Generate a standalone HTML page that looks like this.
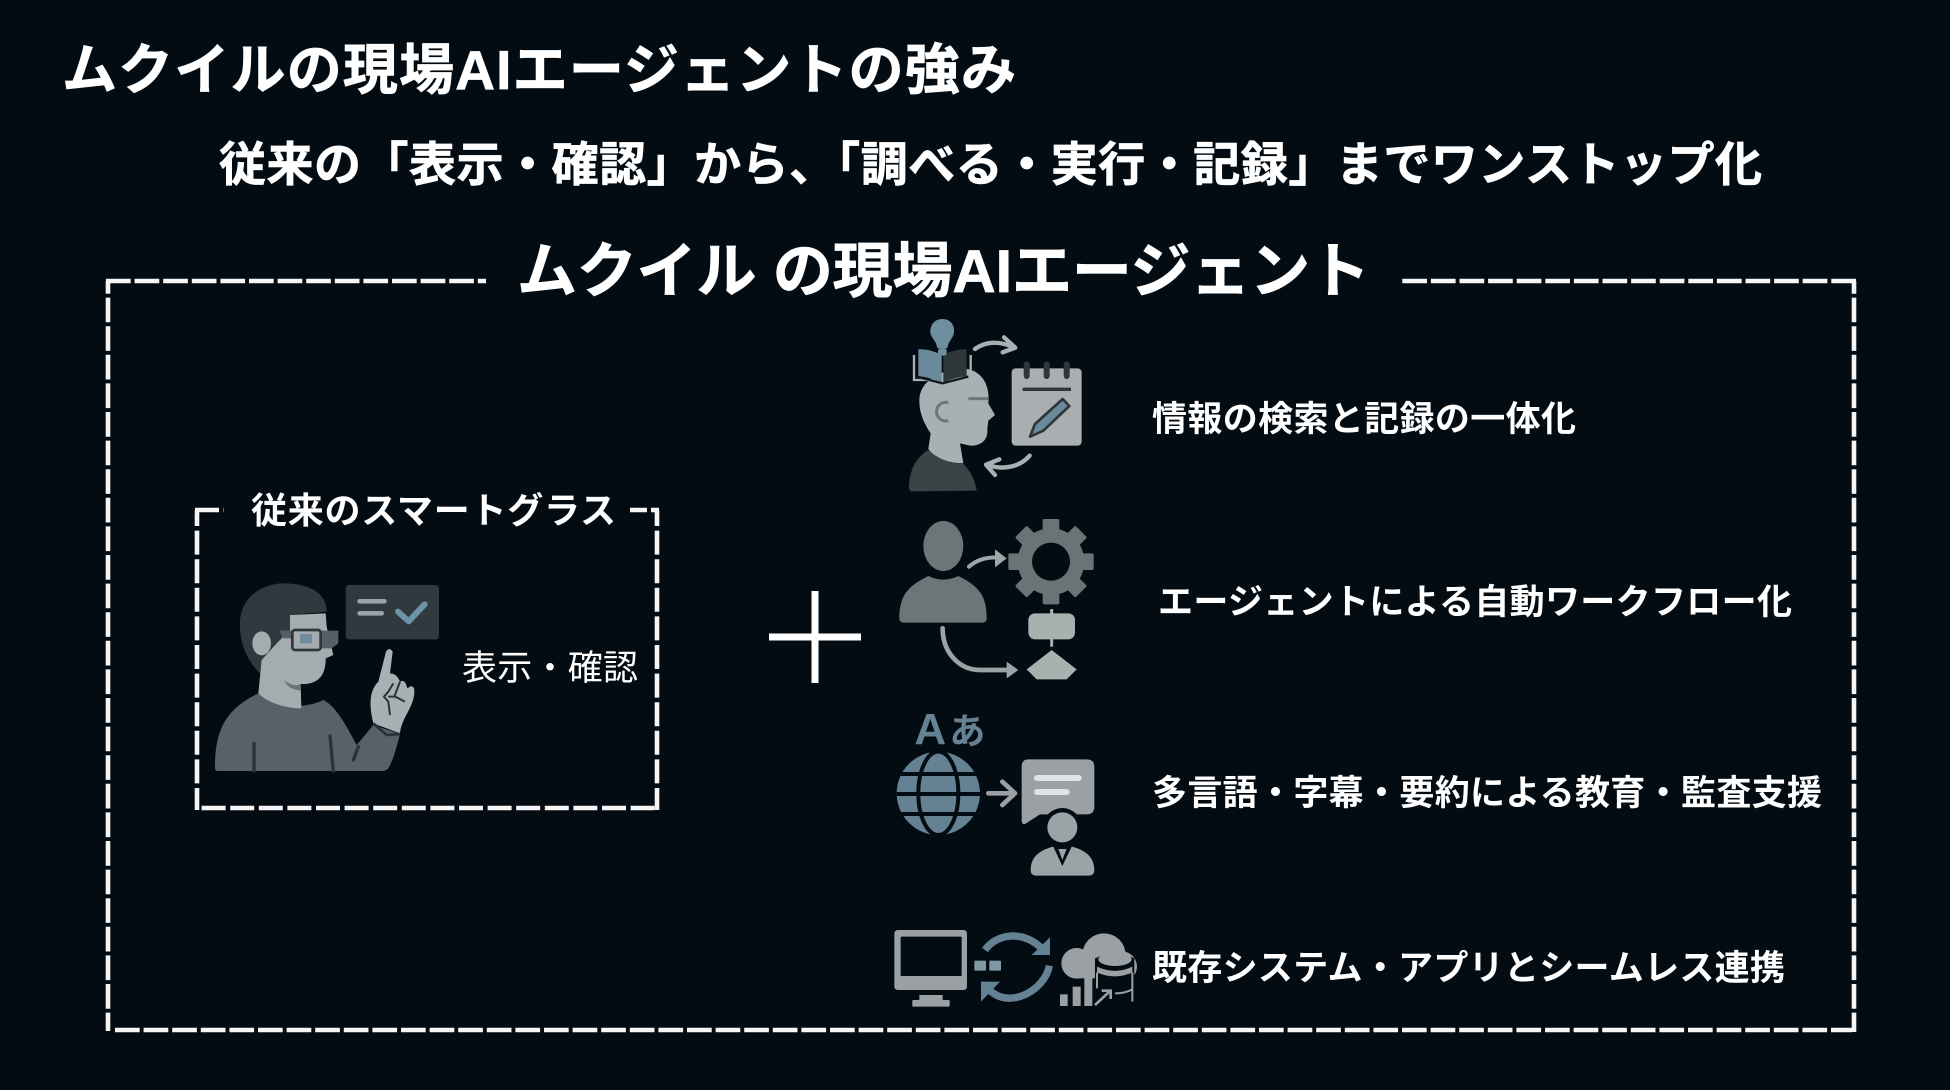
<!DOCTYPE html>
<html lang="ja"><head><meta charset="utf-8"><style>
html,body{margin:0;padding:0;background:#040c13}
svg{display:block}
text{font-family:"Liberation Sans","Noto Sans CJK JP",sans-serif;fill:#fff}
.b{font-weight:700}
.h{font-weight:700;stroke:#fff;stroke-width:.7px}
</style></head><body>
<svg width="1950" height="1090" viewBox="0 0 1950 1090" xmlns="http://www.w3.org/2000/svg">
<rect width="1950" height="1090" fill="#040c13"/>
<text class="h" x="62" y="89" font-size="55" textLength="954">ムクイルの現場AIエージェントの強み</text>
<text class="h" x="219" y="181" font-size="47" textLength="1543">従来の「表示・確認」から、「調べる・実行・記録」までワンストップ化</text>
<text class="h" x="517" y="292" font-size="60" textLength="853">ムクイル の現場AIエージェント</text>
<g fill="none" stroke="#f6f6f6" stroke-width="4.6">
<path d="M106 281H486" stroke-dasharray="24.7 3.9"/>
<path d="M108 281V1031" stroke-dasharray="24.7 3.9" stroke-dashoffset="12"/>
<path d="M115 1030H1852" stroke-dasharray="24.7 3.9"/>
<path d="M1854 281V1032" stroke-dasharray="24.7 3.9" stroke-dashoffset="12"/>
<path d="M1856 281H1402" stroke-dasharray="24.7 3.9"/>
<path d="M195 510H224" stroke-dasharray="24 4.6"/>
<path d="M197 510V810" stroke-dasharray="24 4.6" stroke-dashoffset="8"/>
<path d="M201.6 808H655" stroke-dasharray="24 4.6"/>
<path d="M657 510V810" stroke-dasharray="24 4.6" stroke-dashoffset="8"/>
<path d="M659 510H651M647 510H630"/>
</g>
<text class="b" x="251" y="523" font-size="36" textLength="365">従来のスマートグラス</text>
<text x="462" y="680" font-size="35" textLength="176">表示・確認</text>
<path d="M769 637H861M815 591V683" stroke="#fff" stroke-width="7" fill="none"/>
<text class="b" x="1152" y="431" font-size="35" textLength="424">情報の検索と記録の一体化</text>
<text class="b" x="1158" y="614" font-size="35" textLength="634">エージェントによる自動ワークフロー化</text>
<text class="b" x="1152" y="805" font-size="35" textLength="670">多言語・字幕・要約による教育・監査支援</text>
<text class="b" x="1152" y="980" font-size="35" textLength="633">既存システム・アプリとシームレス連携</text>

<!-- glasses person -->
<g transform="translate(180,480) scale(.33333)">
<path d="M105 865C105 760 130 690 235 640C280 680 370 690 430 660C470 680 500 740 530 795L580 735L660 762C650 800 640 840 625 865Q618 873 605 873H115Q105 873 105 865Z" fill="#566168"/>
<path d="M222 790V873M450 768L460 873M520 840L535 800" stroke="#2a3338" stroke-width="10" fill="none" stroke-linecap="round"/>
<path d="M180 440C175 350 250 310 310 310C390 310 440 340 440 395L330 405V450L300 490C280 510 260 580 240 580C200 540 180 490 180 440Z" fill="#2f3a3f"/>
<path d="M330 405L437 400L440 440L460 525L437 535C438 590 410 615 362 612L364 685C320 685 265 670 235 640L245 540L290 490L330 450Z" fill="#a5acb0"/>
<ellipse cx="245" cy="490" rx="28" ry="36" fill="#a5acb0"/>
<path d="M312 600C330 615 350 620 362 612V632C340 630 320 620 312 600Z" fill="#6a7378"/>
<path d="M297 452H475V490L455 505H420V470H340V475H310Z" fill="#565f65"/>
<rect x="337" y="450" width="85" height="60" rx="8" fill="#a5acb0" stroke="#2c363b" stroke-width="8"/>
<rect x="360" y="462" width="36" height="28" fill="#6f8c9c"/>
<rect x="497" y="315" width="280" height="163" rx="10" fill="#31393e"/>
<rect x="532" y="357" width="88" height="14" rx="7" fill="#99a3a8"/>
<rect x="532" y="393" width="80" height="14" rx="7" fill="#99a3a8"/>
<path d="M654 395L686 424L734 373" fill="none" stroke="#6d93a8" stroke-width="18" stroke-linecap="round" stroke-linejoin="round"/>
<path d="M595 605L618 515Q628 500 638 515L630 580Q650 580 660 605Q675 595 682 625Q700 610 703 630C705 680 665 710 660 760L580 730C565 670 570 630 595 605Z" fill="#a9b0b4"/>
<path d="M640 610L625 635L612 650L625 665L630 705M625 650H645L675 665M660 605L643 650" fill="none" stroke="#2a3338" stroke-width="6"/>
<path d="M580 730L620 765L660 762" fill="none" stroke="#2a3338" stroke-width="8"/>
</g>

<!-- icons 1 & 2 -->
<g transform="translate(880,300) scale(.33333)">
<path d="M118 300C118 250 170 210 250 205C310 210 330 260 325 310L345 345L325 362L322 385C325 420 305 437 270 437L240 430L250 490C200 490 160 470 145 447L152 400C125 360 118 330 118 300Z" fill="#a9b0b4"/>
<path d="M87 565C87 510 110 470 145 450C170 475 210 490 250 492C270 510 285 540 290 572L92 574Z" fill="#3b4347"/>
<path d="M205 308A28 28 0 1 0 205 362M265 296H325" fill="none" stroke="#6c767b" stroke-width="9"/>
<path d="M102 165V240H165M272 165V240H210" fill="none" stroke="#a9b0b4" stroke-width="7"/>
<path d="M115 148Q150 146 185 165V247Q150 232 115 228Z" fill="#6a8a9c"/>
<path d="M190 165Q225 146 260 148V228Q225 232 190 247Z" fill="#2e3639"/>
<path d="M110 230L187 250L265 230" fill="none" stroke="#11181d" stroke-width="7"/>
<path d="M187 57C215 57 224 80 222 97C220 115 205 122 202 145H172C170 122 153 115 151 97C150 80 160 57 187 57Z" fill="#6f8fa1"/>
<rect x="174" y="145" width="26" height="22" rx="8" fill="#6f8fa1"/>
<rect x="395" y="205" width="210" height="232" rx="12" fill="#a9aeb1"/>
<path d="M440 193V228M500 193V228M560 193V228" stroke="#2e3639" stroke-width="18" stroke-linecap="round"/>
<path d="M428 268H573" stroke="#2e3639" stroke-width="10"/>
<path d="M548 297L568 318L490 392L450 410L465 372Z" fill="#6a8a9c" stroke="#2e3639" stroke-width="8" stroke-linejoin="round"/>
<path d="M285 147C315 125 355 122 395 140M372 112L406 143L368 157" fill="none" stroke="#a9b0b4" stroke-width="13" stroke-linecap="round" stroke-linejoin="round"/>
<path d="M449 467C420 500 375 510 330 497M358 478L318 494L345 525" fill="none" stroke="#a9b0b4" stroke-width="13" stroke-linecap="round" stroke-linejoin="round"/>
<ellipse cx="190" cy="738" rx="60" ry="75" fill="#6d7578"/>
<path d="M58 955C58 890 80 860 145 828Q190 850 235 828C300 860 320 890 320 955Q320 968 305 968H72Q58 968 58 955Z" fill="#6d7578"/>
<path d="M267 800C290 780 315 772 350 772" fill="none" stroke="#a0a7a9" stroke-width="12" stroke-linecap="round"/>
<path d="M345 748L380 775L345 802Z" fill="#a0a7a9"/>
<g fill="#6b7376"><circle cx="513" cy="785" r="100"/>
<rect x="488" y="657" width="50" height="256" rx="5"/>
<rect x="488" y="657" width="50" height="256" rx="5" transform="rotate(45 513 785)"/>
<rect x="488" y="657" width="50" height="256" rx="5" transform="rotate(90 513 785)"/>
<rect x="488" y="657" width="50" height="256" rx="5" transform="rotate(135 513 785)"/></g>
<circle cx="513" cy="785" r="57" fill="#040c13"/>
<path d="M515 927V1040" stroke="#a9b0b0" stroke-width="9"/>
<rect x="445" y="940" width="140" height="78" rx="20" fill="#a9b0b0"/>
<path d="M515 1050L590 1108L560 1138H470L440 1108Z" fill="#a9b0b0"/>
<path d="M188 985C188 1060 240 1110 300 1110H385" fill="none" stroke="#9aa3a6" stroke-width="14" stroke-linecap="round"/>
<path d="M380 1085L415 1110L380 1135Z" fill="#9aa3a6"/>
</g>

<!-- icons 3 & 4 -->
<g transform="translate(880,700) scale(.33333)">
<text class="b" x="103" y="132" font-size="132" style="fill:#648294">A</text>
<text class="b" x="208" y="130" font-size="108" style="fill:#648294">あ</text>
<circle cx="175" cy="280" r="125" fill="#648294"/>
<g fill="none" stroke="#040c13" stroke-width="12"><ellipse cx="175" cy="280" rx="60" ry="125"/><path d="M50 222H300M50 282H300M50 342H300"/></g>
<path d="M325 280H395M367 245L405 280L367 315" fill="none" stroke="#9aa0a3" stroke-width="14" stroke-linecap="round" stroke-linejoin="round"/>
<path d="M445 178H620Q643 178 643 200V320Q643 343 620 343H480L435 372Q425 375 425 360V200Q425 178 445 178Z" fill="#9aa0a3"/>
<rect x="462" y="225" width="143" height="18" rx="9" fill="#dfe3e4"/><rect x="462" y="267" width="107" height="18" rx="9" fill="#dfe3e4"/>
<circle cx="547" cy="382" r="58" fill="#040c13"/><circle cx="547" cy="382" r="45" fill="#9aa3a6"/>
<path d="M452 510C452 470 480 450 520 440L547 498L575 440C615 450 643 470 643 510Q643 527 625 527H470Q452 527 452 510Z" fill="#9aa3a6"/>
<path d="M535 447H560L547 480Z" fill="#9aa3a6"/>
<rect x="43" y="690" width="218" height="180" rx="10" fill="#9aa0a3"/>
<rect x="62" y="710" width="183" height="118" rx="3" fill="#040c13"/>
<rect x="118" y="885" width="70" height="18" fill="#9aa0a3"/><rect x="97" y="900" width="112" height="20" rx="3" fill="#9aa0a3"/>
<path d="M315 750C350 700 430 690 485 745" fill="none" stroke="#648294" stroke-width="22"/>
<path d="M510 712V765H455Z" fill="#648294"/>
<path d="M508 797C495 870 390 930 328 870" fill="none" stroke="#648294" stroke-width="22"/>
<path d="M303 845H360L303 905Z" fill="#648294"/>
<rect x="283" y="782" width="35" height="30" rx="3" fill="#7f98a6"/><rect x="328" y="782" width="35" height="30" rx="3" fill="#7f98a6"/>
<g fill="#9aa0a3"><circle cx="590" cy="790" r="46"/><circle cx="672" cy="765" r="65"/><circle cx="725" cy="800" r="46"/><rect x="590" y="790" width="140" height="45"/></g>
<path d="M645 775Q705 745 763 775V885H645Z" fill="#040c13"/>
<ellipse cx="705" cy="778" rx="50" ry="20" fill="#9aa0a3"/>
<path d="M651 800Q705 825 757 800V818Q705 840 651 818Z" fill="#9aa0a3"/>
<path d="M651 818V865M757 818V905M705 880Q735 880 757 868" fill="none" stroke="#9aa0a3" stroke-width="6"/>
<rect x="540" y="883" width="23" height="35" fill="#9aa0a3"/><rect x="578" y="860" width="24" height="58" fill="#9aa0a3"/><rect x="613" y="830" width="24" height="88" fill="#9aa0a3"/>
<path d="M645 915L688 875M665 872H692V897" fill="none" stroke="#9aa0a3" stroke-width="8"/>
</g>
</svg>
</body></html>
